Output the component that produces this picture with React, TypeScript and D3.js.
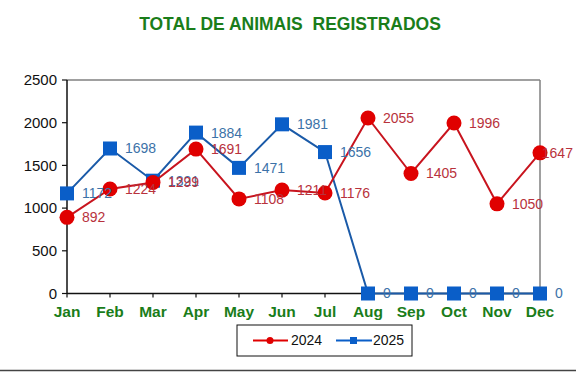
import React from "react";
import * as d3 from "d3";

const months = ["Jan", "Feb", "Mar", "Apr", "May", "Jun", "Jul", "Aug", "Sep", "Oct", "Nov", "Dec"];
const values2024 = [892, 1224, 1299, 1691, 1108, 1211, 1176, 2055, 1405, 1996, 1050, 1647];
const values2025 = [1172, 1698, 1321, 1884, 1471, 1981, 1656, 0, 0, 0, 0, 0];
const yTicks = [0, 500, 1000, 1500, 2000, 2500];
const seriesNames = ["2024", "2025"];

const W = 576, H = 372;
const left = 67, right = 540, top = 80, bottom = 293.5;

export default function App() {
  const x = d3.scalePoint<string>().domain(months).range([left, right]);
  const y = d3.scaleLinear().domain([0, 2500]).range([bottom, top]);
  const line = d3.line<number>().x((_, i) => x(months[i])!).y((d) => y(d));

  const red = "#e00000";
  const redLine = "#c8141e";
  const redText = "#b8323c";
  const blue = "#0a5ec8";
  const blueLine = "#1a5aa8";
  const blueText = "#3c72a8";
  const green = "#1a7d1a";

  const labelX = (i: number, v: number) => {
    const w = String(v).length * 7.8;
    return Math.min(x(months[i])! + 15, W - 3 - w);
  };

  return (
    <svg width={W} height={H} style={{ position: "absolute", left: 0, top: 0, background: "#fff" }} fontFamily="Liberation Sans, Arial, sans-serif">
      <rect x={0} y={0} width={W} height={H} fill="#fff" />
      <text x={290} y={30} textAnchor="middle" fontSize={17.5} fontWeight="bold" fill={green} style={{ whiteSpace: "pre" }}>{"TOTAL DE ANIMAIS  REGISTRADOS"}</text>

      {/* plot border */}
      <line x1={left} y1={top} x2={right} y2={top} stroke="#808080" strokeWidth={1.5} />
      <line x1={right} y1={top} x2={right} y2={bottom} stroke="#808080" strokeWidth={1.5} />
      <line x1={left} y1={top} x2={left} y2={bottom} stroke="#111" strokeWidth={1.5} />
      <line x1={left} y1={bottom} x2={right} y2={bottom} stroke="#111" strokeWidth={1.5} />

      {yTicks.map((t) => (
        <g key={t}>
          <line x1={left - 5} x2={left} y1={y(t)} y2={y(t)} stroke="#111" strokeWidth={1.2} />
          <text x={left - 10} y={y(t)} dy="0.35em" textAnchor="end" fontSize={15} fill="#111">{t}</text>
        </g>
      ))}
      {months.map((m) => (
        <g key={m}>
          <line x1={x(m)} x2={x(m)} y1={bottom} y2={bottom + 4} stroke="#111" strokeWidth={1.2} />
          <text x={x(m)} y={bottom + 23} textAnchor="middle" fontSize={15.5} fontWeight="bold" fill={green}>{m}</text>
        </g>
      ))}

      {/* 2025 series */}
      <path d={line(values2025)!} fill="none" stroke={blueLine} strokeWidth={2} />
      {values2025.map((v, i) => (
        <rect key={"b" + i} x={x(months[i])! - 7} y={y(v) - 7} width={14} height={14} fill={blue} />
      ))}
      {/* 2024 series */}
      <path d={line(values2024)!} fill="none" stroke={redLine} strokeWidth={2} />
      {values2024.map((v, i) => (
        <circle key={"r" + i} cx={x(months[i])!} cy={y(v)} r={7.5} fill={red} />
      ))}

      {values2025.map((v, i) => (
        <text key={"bt" + i} x={labelX(i, v)} y={y(v)} dy="0.35em" fontSize={14} fill={blueText}>{v}</text>
      ))}
      {values2024.map((v, i) => (
        <text key={"rt" + i} x={labelX(i, v)} y={y(v)} dy="0.35em" fontSize={14} fill={redText}>{v}</text>
      ))}

      {/* legend */}
      <rect x={237} y={325} width={175} height={31} fill="#fff" stroke="#111" strokeWidth={1} />
      <line x1={253} x2={288} y1={340.5} y2={340.5} stroke={red} strokeWidth={2} />
      <circle cx={270} cy={340.5} r={3.5} fill={red} />
      <text x={291} y={340.5} dy="0.35em" fontSize={14} fill="#111">{seriesNames[0]}</text>
      <line x1={336} x2={372} y1={340.5} y2={340.5} stroke={blue} strokeWidth={2} />
      <rect x={350} y={337} width={7} height={7} fill={blue} />
      <text x={373} y={340.5} dy="0.35em" fontSize={14} fill="#111">{seriesNames[1]}</text>

      <line x1={0} x2={W} y1={370.5} y2={370.5} stroke="#444" strokeWidth={1.5} />
    </svg>
  );
}
